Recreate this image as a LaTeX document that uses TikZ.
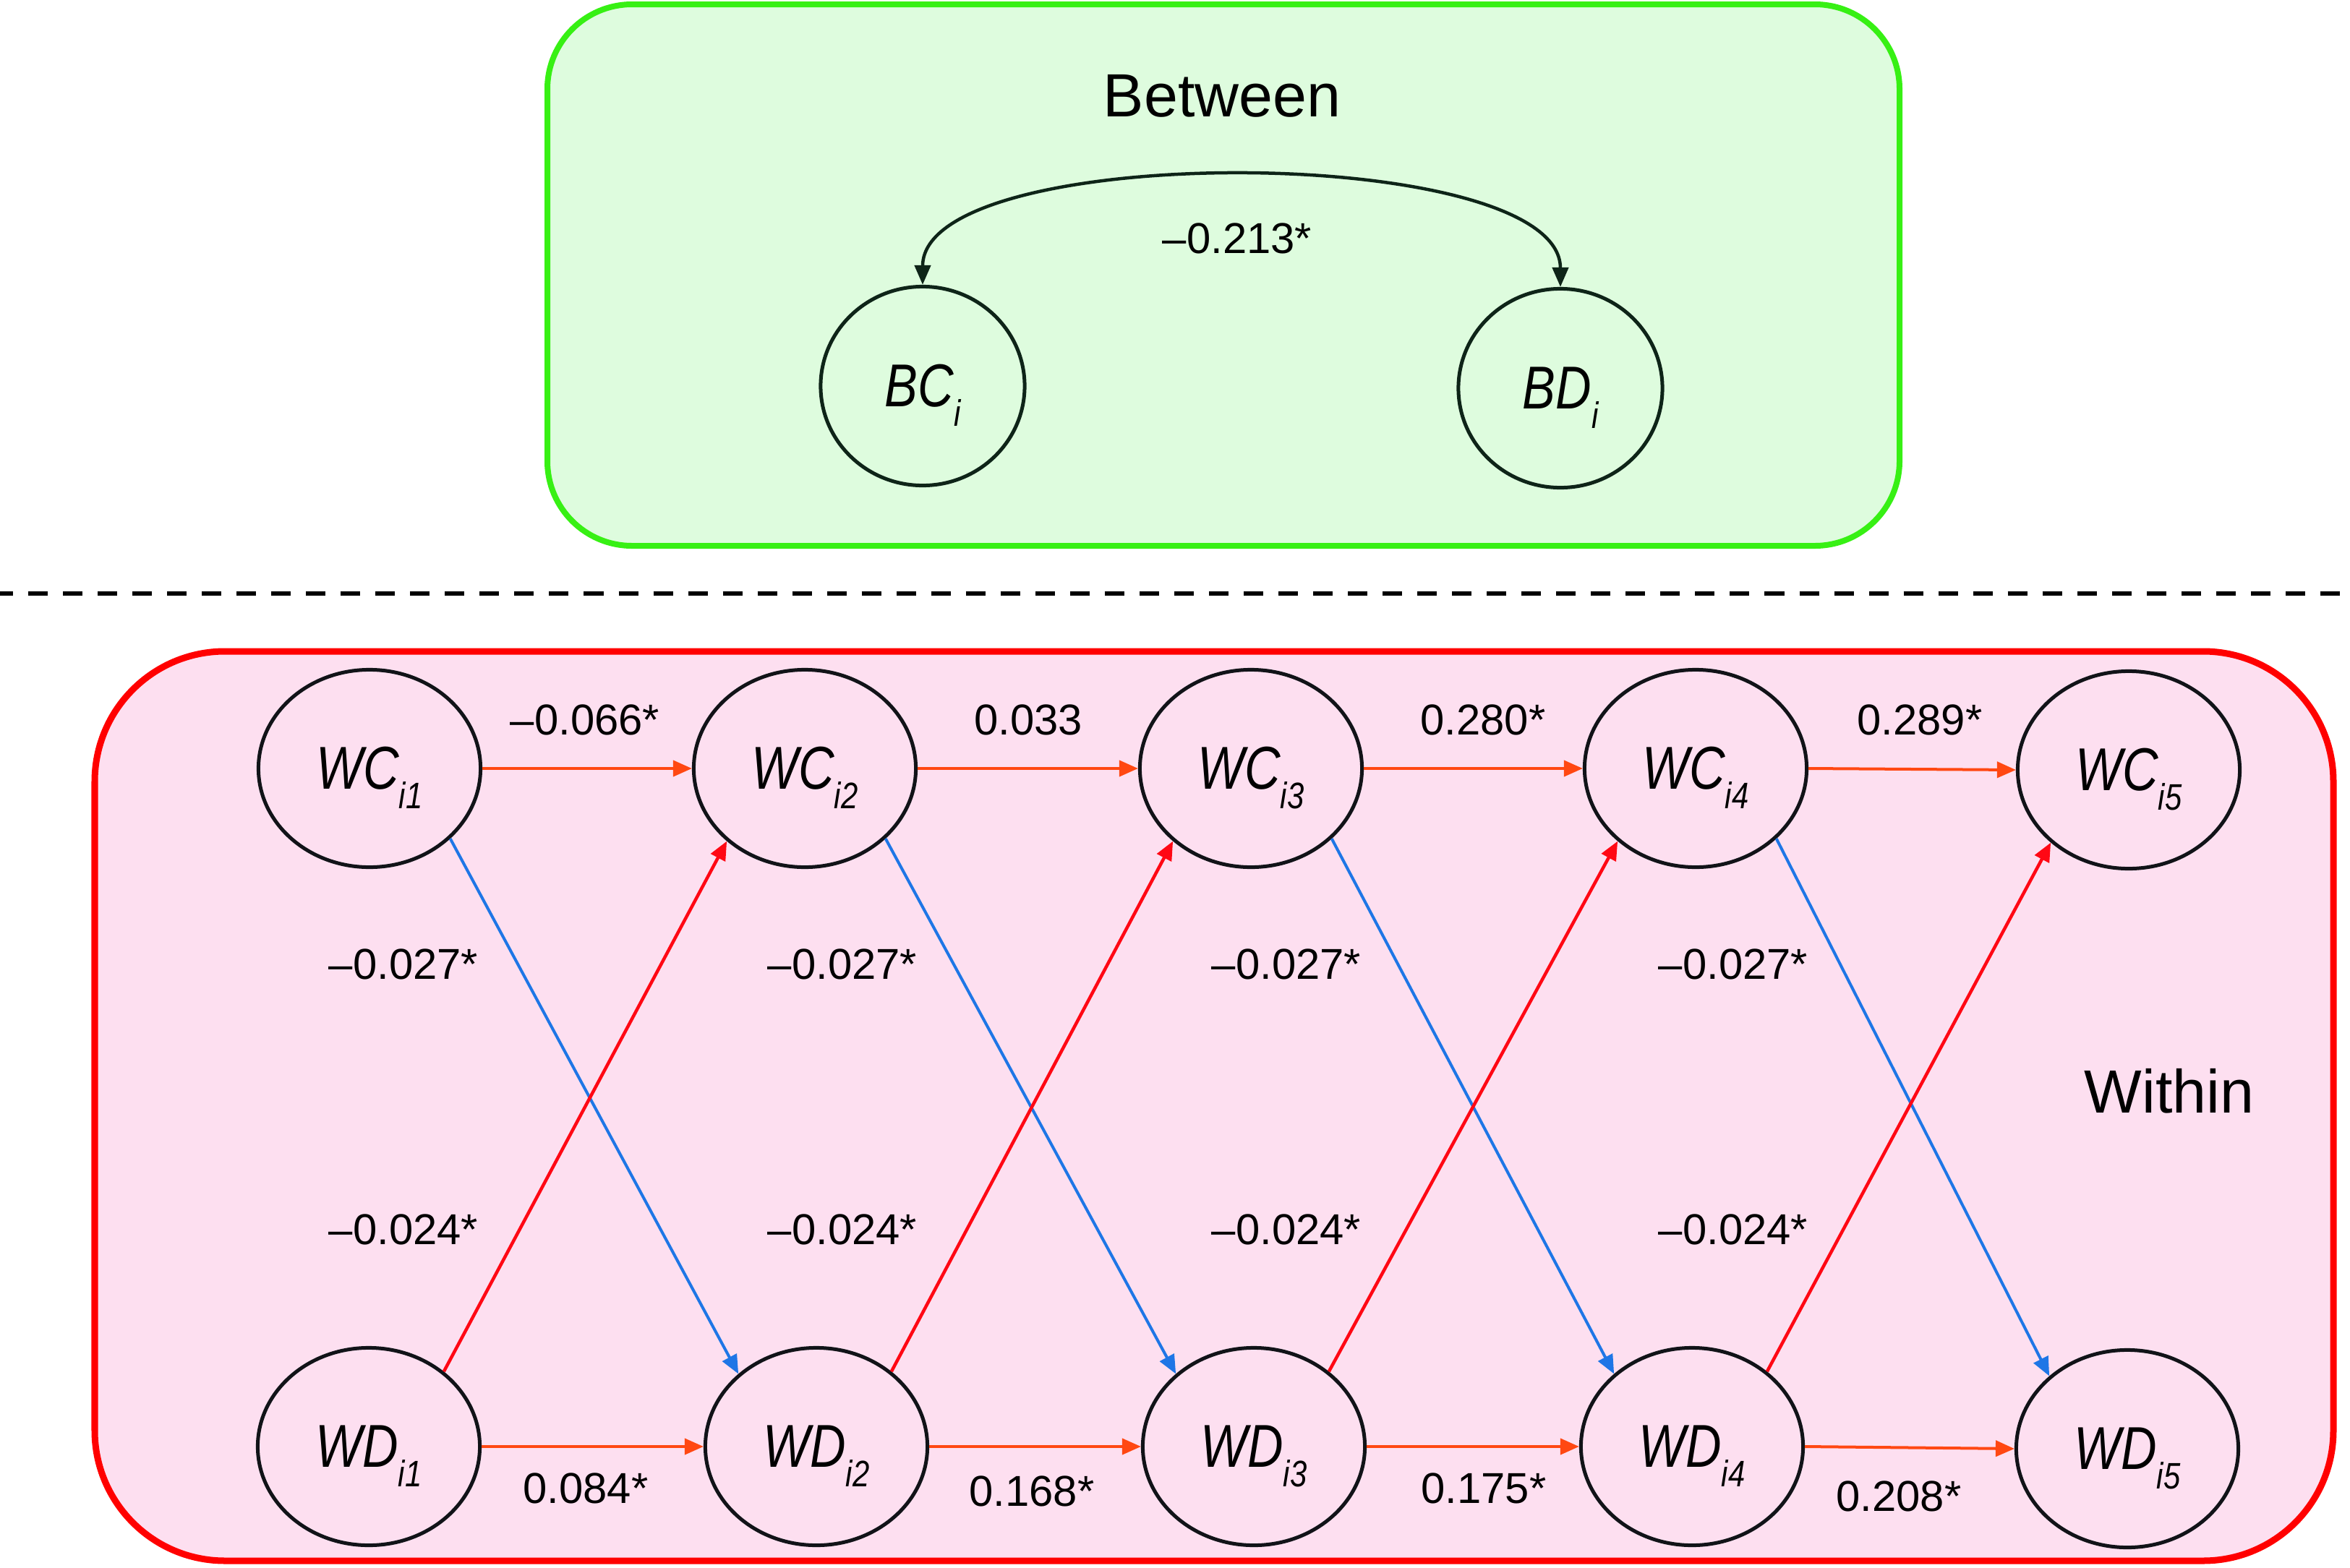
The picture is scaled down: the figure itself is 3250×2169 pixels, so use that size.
\documentclass[tikz,border=0pt]{standalone}
\usepackage{fontspec}
\setmainfont{Liberation Sans}
\newfontfamily\condfont[FakeStretch=0.82]{Liberation Sans}
\usetikzlibrary{shapes.geometric,arrows.meta}
\definecolor{gfill}{RGB}{222,252,222}
\definecolor{gline}{RGB}{55,240,20}
\definecolor{pfill}{RGB}{253,223,240}
\definecolor{rline}{RGB}{255,0,0}
\definecolor{oarrow}{RGB}{255,72,18}
\definecolor{barrow}{RGB}{30,118,230}
\definecolor{rarrow}{RGB}{255,8,20}
\definecolor{darkgr}{RGB}{14,36,24}
\definecolor{nodeline}{RGB}{17,19,24}
\newcommand\numfont{\fontsize{17}{20}\selectfont}
\newcommand\titlefont{\fontsize{24}{28}\selectfont}
\newcommand\varlab[2]{{\condfont\itshape\fontsize{23.8}{26}\selectfont #1\smash{\raisebox{-0.27cm}{\fontsize{14.5}{16}\selectfont #2}}}}
\begin{document}
\begin{tikzpicture}[x=0.01cm,y=-0.01cm,
  wnode/.style={ellipse, draw=nodeline, line width=0.05cm, minimum width=3.07cm, minimum height=2.73cm, inner sep=0pt},
  bnode/.style={ellipse, draw=darkgr, line width=0.05cm, minimum width=2.82cm, minimum height=2.75cm, inner sep=0pt},
  num/.style={inner sep=0pt, font=\numfont},
  title/.style={inner sep=0pt, font=\titlefont},
  harrow/.style={draw=oarrow, line width=0.04cm, -{Triangle[length=0.26cm,width=0.22cm]}},
  barrowst/.style={draw=barrow, line width=0.04cm, -{Triangle[length=0.26cm,width=0.22cm]}},
  rarrowst/.style={draw=rarrow, line width=0.045cm, -{Triangle[length=0.26cm,width=0.22cm]}},
  arcline/.style={draw=darkgr, line width=0.045cm, {Triangle[length=0.27cm,width=0.22cm]}-{Triangle[length=0.27cm,width=0.22cm]}}
]
\useasboundingbox (0,0) rectangle (3250,2169);
% panels
\draw[gline, line width=0.08cm, fill=gfill, rounded corners=1.17cm] (757,6) rectangle (2627,755);
\draw[line width=0.065cm, dash pattern=on 0.27cm off 0.21cm] (-9,821) -- (3260,821);
\draw[rline, line width=0.09cm, fill=pfill, rounded corners=1.8cm] (131,901) rectangle (3227,2159);
% between
\node[title] (tbetween) at (1690,133) {Between};
\node[bnode] (BC) at (1276,534) {\varlab{BC}{i}};
\node[bnode] (BD) at (2158,537) {\varlab{BD}{i}};
\draw[arcline] (BC.north) .. controls +(0,-200) and +(0,-200) .. (BD.north);
\node[num] (lbetween) at (1711,330) {–0.213*};
% within
\node[title] (twithin) at (3000,1509) {Within};
\node[wnode] (WC1) at (511,1063) {\varlab{WC}{i1}};
\node[wnode] (WC2) at (1113,1063) {\varlab{WC}{i2}};
\node[wnode] (WC3) at (1730,1063) {\varlab{WC}{i3}};
\node[wnode] (WC4) at (2345,1063) {\varlab{WC}{i4}};
\node[wnode] (WC5) at (2944,1065) {\varlab{WC}{i5}};
\node[wnode] (WD1) at (510,2001) {\varlab{WD}{i1}};
\node[wnode] (WD2) at (1129,2001) {\varlab{WD}{i2}};
\node[wnode] (WD3) at (1734,2001) {\varlab{WD}{i3}};
\node[wnode] (WD4) at (2340,2001) {\varlab{WD}{i4}};
\node[wnode] (WD5) at (2942,2004) {\varlab{WD}{i5}};
% horizontal paths
\draw[harrow] (WC1.east) -- (WC2.west);
\draw[harrow] (WC2.east) -- (WC3.west);
\draw[harrow] (WC3.east) -- (WC4.west);
\draw[harrow] (WC4.east) -- (WC5.west);
\draw[harrow] (WD1.east) -- (WD2.west);
\draw[harrow] (WD2.east) -- (WD3.west);
\draw[harrow] (WD3.east) -- (WD4.west);
\draw[harrow] (WD4.east) -- (WD5.west);
% cross paths
\draw[barrowst] (WC1.-41) -- (WD2.137);
\draw[barrowst] (WC2.-41) -- (WD3.137);
\draw[barrowst] (WC3.-41) -- (WD4.137);
\draw[barrowst] (WC4.-41) -- (WD5.137);
\draw[rarrowst] (WD1.45) -- (WC2.-137);
\draw[rarrowst] (WD2.45) -- (WC3.-137);
\draw[rarrowst] (WD3.45) -- (WC4.-137);
\draw[rarrowst] (WD4.45) -- (WC5.-137);
% labels
\node[num] (c12) at (809,996) {–0.066*};
\node[num] (c23) at (1422,996) {0.033};
\node[num] (c34) at (2051,996) {0.280*};
\node[num] (c45) at (2655,996) {0.289*};
\node[num] (d12) at (810,2059) {0.084*};
\node[num] (d23) at (1427,2063) {0.168*};
\node[num] (d34) at (2052,2059) {0.175*};
\node[num] (d45) at (2626,2070) {0.208*};
\node[num] (x1) at (558,1334) {–0.027*};
\node[num] (x2) at (1165,1334) {–0.027*};
\node[num] (x3) at (1779,1334) {–0.027*};
\node[num] (x4) at (2397,1334) {–0.027*};
\node[num] (y1) at (558,1701) {–0.024*};
\node[num] (y2) at (1165,1701) {–0.024*};
\node[num] (y3) at (1779,1701) {–0.024*};
\node[num] (y4) at (2397,1701) {–0.024*};
\end{tikzpicture}
\end{document}
